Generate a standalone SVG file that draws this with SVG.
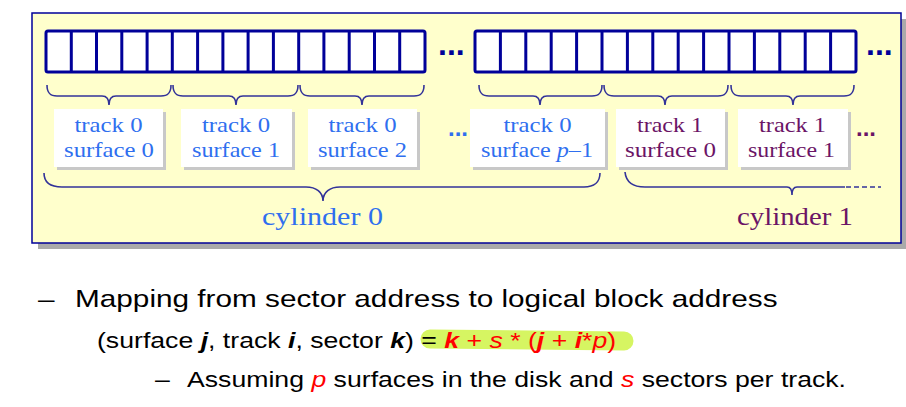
<svg xmlns="http://www.w3.org/2000/svg" width="906" height="407" viewBox="0 0 906 407">
<style>
.cell{fill:#fff;stroke:#000099;stroke-width:3}
.div{stroke:#000099;stroke-width:3}
.box{fill:#fff}
.shd{fill:#c8c8c8}
.brace{fill:none;stroke:#333399;stroke-width:1.6}
.t{font-family:"Liberation Serif","Times New Roman",serif;font-size:22px;text-anchor:middle}
.blue{fill:#2f6fef}
.pur{fill:#6b1466}
.cyl{font-family:"Liberation Serif","Times New Roman",serif;font-size:26px}
.s{font-family:"Liberation Sans",Arial,sans-serif;fill:#000}
.red{fill:#ff0000}
.dots{font-family:"Liberation Sans",Arial,sans-serif;font-weight:bold}
</style>
<rect x="38" y="19" width="869" height="230" fill="#aaaaaa"/>
<rect x="32" y="13" width="869" height="230" fill="#ffffcc" stroke="#000099" stroke-width="1.5"/>

<g id="track-bar-0">
<rect class="cell" x="46" y="31" width="379" height="41" rx="2"/>
<path class="div" d="M71.3,31V72M96.5,31V72M121.8,31V72M147.1,31V72M172.3,31V72M197.6,31V72M222.9,31V72M248.1,31V72M273.4,31V72M298.7,31V72M323.9,31V72M349.2,31V72M374.5,31V72M399.7,31V72"/>
<text class="dots" x="438" y="55" font-size="32" fill="#000099">...</text>
</g>
<g id="track-bar-1">
<rect class="cell" x="475" y="31" width="381" height="41" rx="2"/>
<path class="div" d="M500.4,31V72M525.8,31V72M551.2,31V72M576.6,31V72M602,31V72M627.4,31V72M652.8,31V72M678.2,31V72M703.6,31V72M729,31V72M754.4,31V72M779.8,31V72M805.2,31V72M830.6,31V72"/>
<text class="dots" x="866" y="55" font-size="32" fill="#000099">...</text>
</g>

<g id="connectors">
<path class="brace" d="M47,85C47,93 50,96 57,96L102,96C106,96 109,99 109,105C109,99 112,96 116,96L161,96C168,96 171,93 171,85"/>
<path class="brace" d="M173,85C173,93 176,96 183,96L229,96C233,96 236,99 236,105C236,99 239,96 243,96L288,96C295,96 298,93 298,85"/>
<path class="brace" d="M300,85C300,93 303,96 310,96L355,96C359,96 362,99 362,105C362,99 365,96 369,96L414,96C421,96 424,93 424,85"/>
<path class="brace" d="M479,85C479,93 482,96 489,96L533,96C537,96 540,99 540,105C540,99 543,96 547,96L592,96C599,96 602,93 602,85"/>
<path class="brace" d="M604,85C604,93 607,96 614,96L658,96C662,96 665,99 665,105C665,99 668,96 672,96L718,96C725,96 728,93 728,85"/>
<path class="brace" d="M731,85C731,93 734,96 741,96L786,96C790,96 793,99 793,105C793,99 796,96 800,96L844,96C851,96 854,93 854,85"/>
<path class="brace" d="M44,173C44,182 50,187 62,187L306,187C316,187 323,192 323,201C323,192 330,187 340,187L584,187C594,187 600,182 600,173"/>
<path class="brace" d="M625,172C626,182 632,187 645,187L787,187C790,187 792,190 792,195C792,190 794,187 797,187L845,187"/>
<path class="brace" d="M846,187H881" stroke-dasharray="5 3"/>
</g>

<g id="t0s0">
<rect class="shd" x="57" y="112" width="109" height="58"/>
<rect class="box" x="54" y="109" width="109" height="58"/>
<text class="t blue" x="108.5" y="132" textLength="68" lengthAdjust="spacingAndGlyphs">track 0</text>
<text class="t blue" x="109" y="157" textLength="90" lengthAdjust="spacingAndGlyphs">surface 0</text>
</g>
<g id="t0s1">
<rect class="shd" x="184" y="112" width="111" height="58"/>
<rect class="box" x="181" y="109" width="111" height="58"/>
<text class="t blue" x="236" y="132" textLength="68" lengthAdjust="spacingAndGlyphs">track 0</text>
<text class="t blue" x="236" y="157" textLength="88" lengthAdjust="spacingAndGlyphs">surface 1</text>
</g>
<g id="t0s2">
<rect class="shd" x="311" y="112" width="109" height="58"/>
<rect class="box" x="308" y="109" width="109" height="58"/>
<text class="t blue" x="362.5" y="132" textLength="68" lengthAdjust="spacingAndGlyphs">track 0</text>
<text class="t blue" x="362.5" y="157" textLength="89" lengthAdjust="spacingAndGlyphs">surface 2</text>
</g>
<text class="dots blue" x="448" y="136" font-size="24">...</text>
<g id="t0sp">
<rect class="shd" x="473" y="112" width="135" height="58"/>
<rect class="box" x="470" y="109" width="135" height="58"/>
<text class="t blue" x="537.5" y="132" textLength="68" lengthAdjust="spacingAndGlyphs">track 0</text>
<text class="t blue" x="537" y="157" textLength="112" lengthAdjust="spacingAndGlyphs">surface <tspan font-style="italic">p</tspan>–1</text>
</g>
<g id="t1s0">
<rect class="shd" x="619" y="112" width="109" height="58"/>
<rect class="box" x="616" y="109" width="109" height="58"/>
<text class="t pur" x="670" y="132" textLength="66" lengthAdjust="spacingAndGlyphs">track 1</text>
<text class="t pur" x="670.5" y="157" textLength="91" lengthAdjust="spacingAndGlyphs">surface 0</text>
</g>
<g id="t1s1">
<rect class="shd" x="741" y="112" width="110" height="58"/>
<rect class="box" x="738" y="109" width="110" height="58"/>
<text class="t pur" x="792.5" y="132" textLength="67" lengthAdjust="spacingAndGlyphs">track 1</text>
<text class="t pur" x="791.5" y="157" textLength="87" lengthAdjust="spacingAndGlyphs">surface 1</text>
</g>
<text class="dots pur" x="856" y="136" font-size="24">...</text>

<g id="cylinder-0">
<text class="cyl blue" x="262" y="225" textLength="121" lengthAdjust="spacingAndGlyphs">cylinder 0</text>
</g>
<g id="cylinder-1">
<text class="cyl pur" x="737" y="225" textLength="116" lengthAdjust="spacingAndGlyphs">cylinder 1</text>
</g>

<g id="notes">
<path d="M430,339L624,341" stroke="#d6f562" stroke-width="19" stroke-linecap="round" fill="none"/>
<text class="s" transform="translate(38,307) scale(1.24,1)" font-size="24">–</text>
<text class="s" transform="translate(75,307) scale(1.24,1)" font-size="24">Mapping from sector address to logical block address</text>
<text class="s" transform="translate(97,348) scale(1.24,1)" font-size="21.5">(surface <tspan font-weight="bold" font-style="italic">j</tspan>, track <tspan font-weight="bold" font-style="italic">i</tspan>, sector <tspan font-weight="bold" font-style="italic">k</tspan>) = <tspan class="red"><tspan font-weight="bold" font-style="italic">k</tspan> + <tspan font-style="italic">s</tspan> * (<tspan font-weight="bold" font-style="italic">j</tspan> + <tspan font-weight="bold" font-style="italic">i</tspan>*<tspan font-style="italic">p</tspan>)</tspan></text>
<text class="s" transform="translate(155,387) scale(1.24,1)" font-size="21.5">–</text>
<text class="s" transform="translate(187,387) scale(1.24,1)" font-size="21.5">Assuming <tspan class="red" font-style="italic">p</tspan> surfaces in the disk and <tspan class="red" font-style="italic">s</tspan> sectors per track.</text>
</g>
</svg>
